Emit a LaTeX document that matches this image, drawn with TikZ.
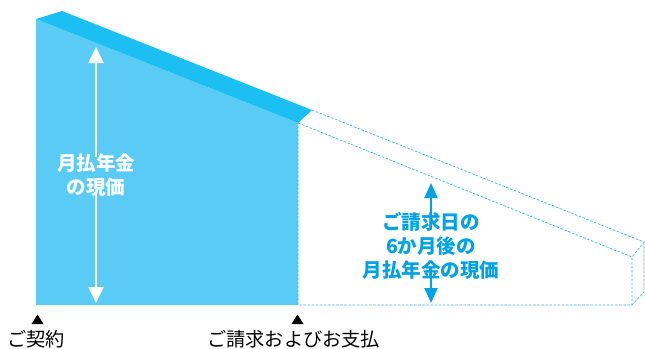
\documentclass[tikz,border=0pt]{standalone}
\usepackage{fontspec}
\newfontfamily\cjk{Noto Sans CJK JP}
\usetikzlibrary{arrows.meta}
\definecolor{facefill}{HTML}{5ACBF5}
\definecolor{bandfill}{HTML}{1BBFF1}
\definecolor{dashblue}{HTML}{33B5E8}
\definecolor{textblue}{HTML}{00A2E6}
\tikzset{
  dash line/.style={draw=dashblue, line width=0.7pt, dash pattern=on 2.5pt off 1.6pt},
  white arrow/.style={draw=white, line width=2pt, -{Triangle[width=15pt,length=16pt]}},
  blue arrow/.style={draw=textblue, line width=2pt, -{Triangle[width=13pt,length=15pt]}},
  big label/.style={font=\cjk\bfseries\fontsize{19.5}{24}\selectfont, align=center, inner sep=0pt},
  foot label/.style={font=\cjk\fontsize{19.2}{22}\selectfont, anchor=west, inner sep=0pt, text=black},
  marker/.style={fill=black, draw=none}
}
\begin{document}
\begin{tikzpicture}[x=1pt,y=-1pt]
\useasboundingbox (0,0) rectangle (645,348);
% key corners
\coordinate (ftl) at (36,19);
\coordinate (btl) at (62,11);
\coordinate (fbl) at (36,305);
\coordinate (fmt) at (298,123);
\coordinate (bmt) at (312,110);
\coordinate (fmb) at (298,305);
\coordinate (frt) at (632,257);
\coordinate (brt) at (644,242);
\coordinate (frb) at (632,305);
\coordinate (brb) at (644,292);
% solid front face and top band
\fill[facefill] (ftl) -- (fmt) -- (fmb) -- (fbl) -- cycle;
\fill[bandfill] (ftl) -- (btl) -- (bmt) -- (fmt) -- cycle;
% dashed continuation
\draw[dash line] (fmt) -- (frt) -- (frb) -- (fmb) -- cycle;
\draw[dash line] (bmt) -- (brt) -- (frt);
\draw[dash line] (brt) -- (brb) -- (frb);
% white label and arrow
\node[big label, text=white] (wl) at (96,175) {月払年金\\の現価};
\coordinate (wtop) at (96,47);
\coordinate (wbot) at (96,303);
\draw[white arrow] ([yshift=-4pt]wl.north) -- (wtop);
\draw[white arrow] ([yshift=4pt]wl.south) -- (wbot);
% blue label and arrow
\node[big label, text=textblue] (bl) at (431,246) {ご請求日の\\6か月後の\\月払年金の現価};
\coordinate (btop) at (431,183);
\coordinate (bbot) at (431,303);
\draw[blue arrow] ([yshift=-2pt]bl.north) -- (btop);
\draw[blue arrow] ([yshift=2pt]bl.south) -- (bbot);
% bottom markers and labels
\fill[marker] (37.5,314.5) -- (43.5,324) -- (31.5,324) -- cycle;
\fill[marker] (297.5,314.5) -- (303.5,324) -- (291.5,324) -- cycle;
\node[foot label] (l1) at (7,339) {ご契約};
\node[foot label] (l2) at (207,339) {ご請求およびお支払};
\end{tikzpicture}
\end{document}
